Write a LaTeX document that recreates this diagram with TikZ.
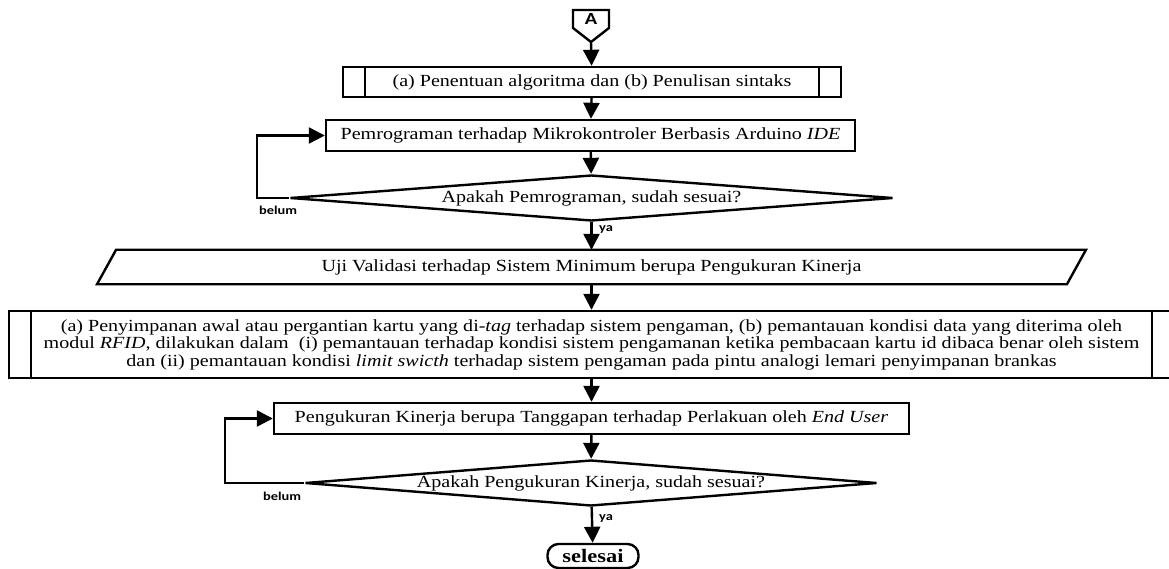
\documentclass[tikz,border=0pt]{standalone}
\usepackage{fontspec}
\setmainfont{Liberation Serif}[FakeStretch=1.18]
\newfontfamily\labelfont{Carlito}[FakeStretch=1.2]
\usepackage{tikz}
\usetikzlibrary{shapes.geometric, arrows.meta, positioning}

\begin{document}
\begin{tikzpicture}[x=1pt, y=-1pt,
    garis/.style={line width=2.4pt},
    panah/.style={line width=2.4pt, -{Triangle[length=16pt, width=16pt]}},
    kotak/.style={draw, line width=2.4pt, inner sep=0pt, font=\fontsize{17}{17.5}\selectfont},
    keputusan/.style={draw, diamond, aspect=13, line width=2.4pt, inner sep=0pt, font=\fontsize{17}{17.5}\selectfont},
    ket/.style={inner sep=0pt, font=\labelfont\bfseries\fontsize{12}{12}\selectfont}]
  \useasboundingbox (0,0) rectangle (1169,569);

  % konektor A
  \node[inner sep=0pt, font=\labelfont\bfseries\fontsize{17}{17}\selectfont] (A) at (591,19) {A};
  \coordinate (Aujung) at (591,42);
  \draw[garis] (573,10) -- (609,10) -- (609,28) -- (Aujung) -- (573,28) -- cycle;

  %---- TAHAP PEMROGRAMAN ----
  \node[kotak, minimum width=498pt, minimum height=30pt] (algo) at (592,82)
    {(a) Penentuan algoritma dan (b) Penulisan sintaks};
  \node[kotak, minimum width=529pt, minimum height=31pt] (prog) at (590.5,135.5)
    {Pemrograman terhadap Mikrokontroler Berbasis Arduino \textit{IDE}};
  \node[keputusan, minimum width=603pt, minimum height=46pt] (cek1) at (591.5,198)
    {Apakah Pemrograman, sudah sesuai?};
  \node[ket] (belum1) at (278,210) {belum};
  \node[ket] (ya1) at (606,229) {ya};

  %---- TAHAP UJI ----
  \node[inner sep=0pt, minimum width=969.5pt, minimum height=34pt, font=\fontsize{17}{17.5}\selectfont] (uji) at (591.5,267)
    {Uji Validasi terhadap Sistem Minimum berupa Pengukuran Kinerja};
  \draw[garis] ([xshift=9.5pt]uji.north west) -- ([xshift=9.5pt]uji.north east)
    -- ([xshift=-9.5pt]uji.south east) -- ([xshift=-9.5pt]uji.south west) -- cycle;
  \node[kotak, minimum width=1165pt, minimum height=67pt, align=center] (rfid) at (591.5,344.5)
    {(a) Penyimpanan awal atau pergantian kartu yang di-\textit{tag} terhadap sistem pengaman, (b) pemantauan kondisi data yang diterima oleh\\
     modul \textit{RFID}, dilakukan dalam~ (i) pemantauan terhadap kondisi sistem pengamanan ketika pembacaan kartu id dibaca benar oleh sistem\\
     dan (ii) pemantauan kondisi \textit{limit swicth} terhadap sistem pengaman pada pintu analogi lemari penyimpanan brankas};

  % garis tepi proses terdefinisi
  \foreach \n in {algo, rfid}{
    \draw[garis] ([xshift=23pt]\n.north west) -- ([xshift=23pt]\n.south west);
    \draw[garis] ([xshift=-23pt]\n.north east) -- ([xshift=-23pt]\n.south east);
  }

  %---- TAHAP PENGUKURAN ----
  \node[kotak, minimum width=635pt, minimum height=31pt] (ukur) at (591.5,418.5)
    {Pengukuran Kinerja berupa Tanggapan terhadap Perlakuan oleh \textit{End User}};
  \node[keputusan, minimum width=572pt, minimum height=46pt] (cek2) at (591,483)
    {Apakah Pengukuran Kinerja, sudah sesuai?};
  \node[ket] (belum2) at (282,496) {belum};
  \node[ket] (ya2) at (606,518) {ya};
  \node[draw, line width=2.4pt, rounded corners=11pt, inner sep=0pt, minimum width=91pt, minimum height=24pt,
    font=\bfseries\fontsize{19}{19}\selectfont] (selesai) at (593,556) {selesai};

  % panah
  \draw[panah] (Aujung) -- (algo);
  \draw[panah] (algo) -- (prog);
  \draw[panah] (prog) -- (cek1);
  \draw[panah] (cek1) -- (uji);
  \draw[panah] (uji) -- (rfid);
  \draw[panah] (rfid) -- (ukur);
  \draw[panah] (ukur) -- (cek2);
  \draw[panah] (cek2) -- (selesai);
  \draw[panah] (cek1.west) -- ++(-32,0) |- (prog.west);
  \draw[panah] (cek2.west) -- ++(-79,0) |- (ukur.west);
\end{tikzpicture}
\end{document}
